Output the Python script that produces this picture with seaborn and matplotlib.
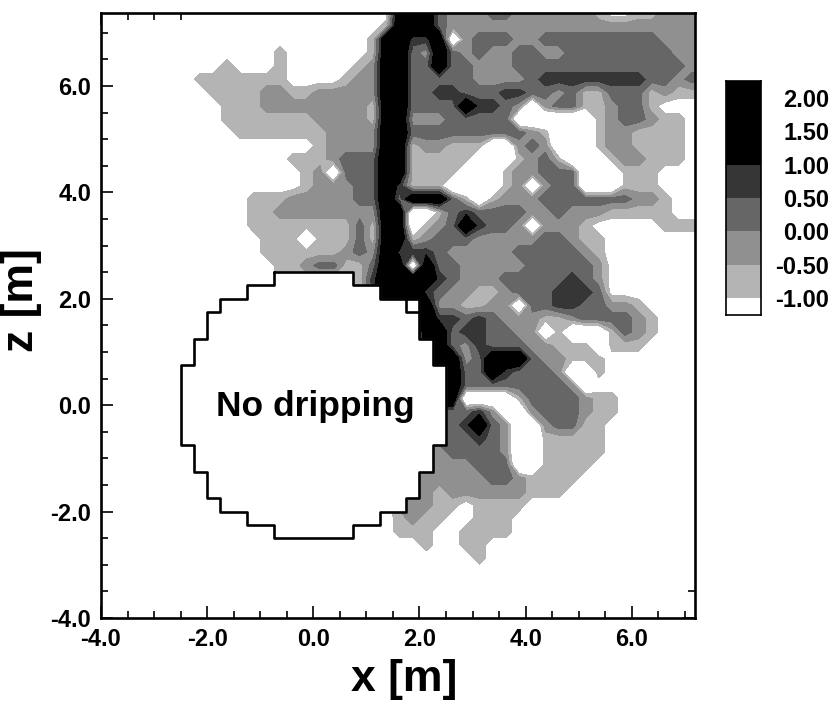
import numpy as np
import pandas as pd
import matplotlib
matplotlib.use("Agg")
import matplotlib.pyplot as plt
from matplotlib.colors import ListedColormap, BoundaryNorm
from matplotlib.ticker import MultipleLocator, FormatStrFormatter
import seaborn as sns

# cell centres of the map, 0.25 m apart
x_cells = [-2.375 + 0.25 * i for i in range(40)]
z_cells = [7.375 - 0.25 * i for i in range(43)]

# one digit per cell: which shading band the cell was read as, top row first
# 0 = dry outside, 6 = dry hole inside the wet area
band_rows = [
    "0000000000 0000005553 2223322222 2100112222",
    "0000000000 0000015553 2222222222 2222222222",
    "0000000000 0000155445 6233322333 3333332222",
    "0000000100 0000155325 3232233223 3333333222",
    "0001000100 0001255335 3322233333 3333333322",
    "0111111100 0012255333 3322223444 4444433233",
    "0011112211 2222255334 4333443323 1133312111",
    "0001112222 2222155333 3544326233 1123310000",
    "0001111111 2222155222 3333366666 6123321100",
    "0000111111 1222255333 3333332166 6122111100",
    "0000000000 1222255122 1116623266 6122111100",
    "0000000011 1233355111 1166612316 6612211100",
    "0000000001 2633355111 1666122333 6661110000",
    "0000000001 2223354111 6666126233 6661110000",
    "0000011122 2223353555 3161222333 3333221000",
    "0000011222 2222255661 3433332232 2211111000",
    "0000011111 1113155612 3543326222 1000001111",
    "0000001116 1113155123 3322222332 1100000000",
    "0000001111 1123254443 2222233333 2100000000",
    "0000000112 3311355653 3222223333 3200000000",
    "0000000111 1111455554 3222333334 3200000000",
    "0000000000 0000455543 2211233344 4300000000",
    "0000000000 0000055552 2112263344 3322100000",
    "0000000000 0000000554 4343222112 3333210000",
    "0000000000 0000000055 3443322616 6613210000",
    "0000000000 0000000055 3243332211 1611100000",
    "0000000000 0000000055 5235553221 1100000000",
    "0000000000 0000000055 5335433326 6100000000",
    "0000000000 0000000005 5333333332 6000000000",
    "0000000000 0000000005 5666613333 2110000000",
    "0000000000 0000000003 3342662333 2110000000",
    "0000000000 0000000003 3453266233 1100000000",
    "0000000000 0000000003 3343266111 1100000000",
    "0000000000 0000000022 3333266111 1100000000",
    "0000000000 0000000022 2233366111 1000000000",
    "0000000000 0000000222 2223321111 0000000000",
    "0000000000 0000000221 2222221110 0000000000",
    "0000000000 0000002221 1011110000 0000000000",
    "0000000000 0000001211 0011100000 0000000000",
    "0000000000 0000001110 0111100000 0000000000",
    "0000000000 0000000010 0110000000 0000000000",
    "0000000000 0000000000 0010000000 0000000000",
    "0000000000 0000000000 0000000000 0000000000",
]
band_values = [-1.3, -0.75, -0.25, 0.25, 0.75, 2.0, -2.3]

levels = [-3.0, -1.0, -0.5, 0.0, 0.5, 1.0, 3.0]
greys = ["#ffffff", "#b4b4b4", "#909090", "#666666", "#363636", "#000000"]

legend_steps = [2.125, 1.875, 1.625, 1.375, 1.125, 0.875, 0.625, 0.375, 0.125,
                -0.125, -0.375, -0.625, -0.875, -1.125]
legend_labels = ["2.00", "1.50", "1.00", "0.50", "0.00", "-0.50", "-1.00"]

# edge of the no dripping zone
edge_x = [-0.75, 0.75, 0.75, 1.25, 1.25, 2.0, 2.0, 2.25, 2.25, 2.5, 2.5, 2.25, 2.25, 2.0, 2.0,
          1.75, 1.75, 1.25, 1.25, 0.75, 0.75, -0.75, -0.75, -1.25, -1.25, -1.75, -1.75, -2.0,
          -2.0, -2.25, -2.25, -2.5, -2.5, -2.25, -2.25, -2.0, -2.0, -1.75, -1.75, -1.25, -1.25,
          -0.75, -0.75]
edge_z = [2.5, 2.5, 2.25, 2.25, 2.0, 2.0, 1.25, 1.25, 0.75, 0.75, -0.75, -0.75, -1.25, -1.25,
          -1.75, -1.75, -2.0, -2.0, -2.25, -2.25, -2.5, -2.5, -2.25, -2.25, -2.0, -2.0, -1.75,
          -1.75, -1.25, -1.25, -0.75, -0.75, 0.75, 0.75, 1.25, 1.25, 1.75, 1.75, 2.0, 2.0, 2.25,
          2.25, 2.5]
cell_x = [1.75, 1.75, 2.0]
cell_z = [2.0, 1.75, 1.75]

sns.set_theme(style="ticks")
plt.rcParams["font.family"] = ["Liberation Sans", "DejaVu Sans"]
plt.rcParams["font.weight"] = "bold"
plt.rcParams["axes.labelweight"] = "bold"

grid = np.array([[band_values[int(c)] for c in row.replace(" ", "")] for row in band_rows])
cmap = ListedColormap(greys)
norm = BoundaryNorm(levels, cmap.N)

W, H = 836, 706
fig = plt.figure(figsize=(W / 100, H / 100), dpi=100)
ax = fig.add_axes([101 / W, (H - 618) / H, 594 / W, 605 / H])

ax.contourf(x_cells, z_cells, grid, levels=levels, colors=greys, zorder=1)
ax.fill(edge_x, edge_z, color="white", zorder=2)
sns.lineplot(x=edge_x, y=edge_z, sort=False, estimator=None, color="black",
             linewidth=1.9, ax=ax, zorder=3)
sns.lineplot(x=cell_x, y=cell_z, sort=False, estimator=None, color="black",
             linewidth=1.9, ax=ax, zorder=3)
ax.text(0.03, -0.03, "No dripping", fontsize=25.5, fontweight="bold",
        ha="center", va="center", color="black", zorder=4)

ax.set_xlim(-4, 7.19)
ax.set_ylim(-4, 7.37)
ax.xaxis.set_major_locator(MultipleLocator(2))
ax.xaxis.set_minor_locator(MultipleLocator(0.5))
ax.yaxis.set_major_locator(MultipleLocator(2))
ax.yaxis.set_minor_locator(MultipleLocator(0.5))
ax.xaxis.set_major_formatter(FormatStrFormatter("%.1f"))
ax.yaxis.set_major_formatter(FormatStrFormatter("%.1f"))
ax.tick_params(which="major", direction="in", length=8.5, width=1.2, top=True, right=True,
               labelsize=17, pad=7, color="black", labelcolor="black")
ax.tick_params(which="minor", direction="in", length=5, width=1.2, top=True, right=True,
               color="black")
for side in ax.spines.values():
    side.set_linewidth(1.9)
    side.set_color("black")
ax.set_xlabel("x [m]", fontsize=32, color="black")
ax.set_ylabel("z [m]", fontsize=32, color="black")
ax.xaxis.set_label_coords(0.51, -0.067, transform=ax.transAxes)
ax.yaxis.set_label_coords(-0.1, 0.525, transform=ax.transAxes)

# band legend on the right
cax = fig.add_axes([726 / W, (H - 315) / H, 35 / W, 234 / H])
legend_df = pd.DataFrame({"band": legend_steps})
sns.heatmap(legend_df, ax=cax, cmap=cmap, norm=norm, cbar=False, xticklabels=False,
            yticklabels=False)
cax.yaxis.tick_right()
cax.set_yticks(np.arange(1, 14, 2))
cax.set_yticklabels(legend_labels, rotation=0, fontsize=17, color="black", ha="right")
cax.tick_params(axis="y", length=0, pad=49)
for side in cax.spines.values():
    side.set_visible(True)
    side.set_linewidth(1.2)
    side.set_color("black")
cax.set_ylabel("")

fig.savefig("out.png", dpi=100)
